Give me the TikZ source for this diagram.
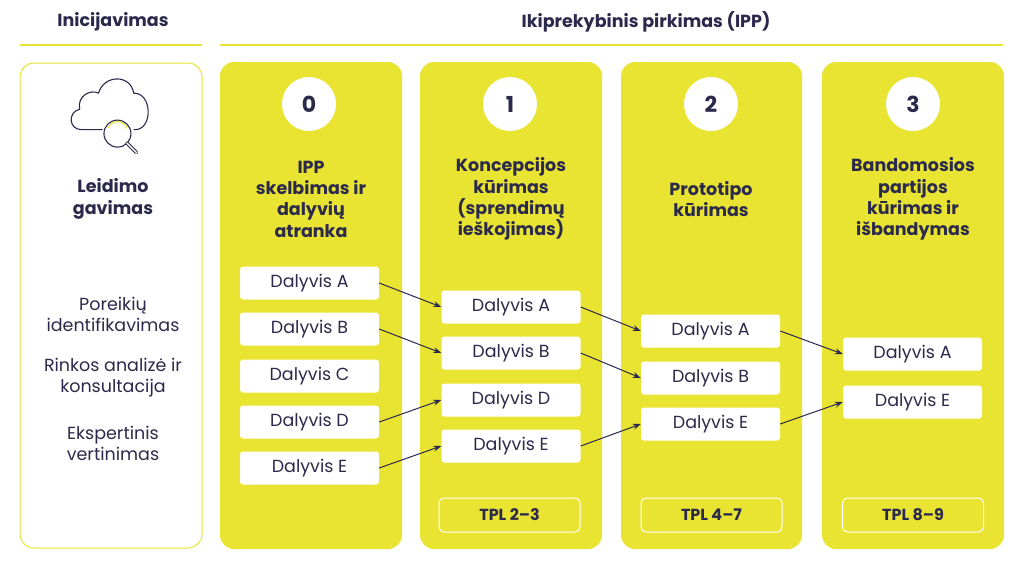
\documentclass[tikz,border=0pt]{standalone}
\usepackage{fontspec}
\setmainfont{Poppins}
\usetikzlibrary{arrows.meta}
\definecolor{yel}{HTML}{E9E432}
\definecolor{navy}{HTML}{2B2A4C}
\tikzset{
  col/.style={fill=yel,rounded corners=14pt},
  part/.style={fill=white,rounded corners=3pt,minimum width=139pt,minimum height=33pt,inner sep=0pt,font=\fontsize{17.5}{20}\selectfont,text=navy},
  tpl/.style={draw=white,line width=1pt,rounded corners=5pt,minimum width=141pt,minimum height=34pt,inner sep=0pt,font=\bfseries\fontsize{16}{18}\selectfont,text=navy},
  num/.style={circle,fill=white,minimum size=54pt,inner sep=0pt,font=\bfseries\fontsize{22}{24}\selectfont,text=navy},
  ttl/.style={align=center,font=\bfseries\fontsize{17.5}{21.3}\selectfont,text=navy},
  lt/.style={align=center,font=\fontsize{17.5}{21}\selectfont,text=navy},
  arr/.style={-{Stealth[length=8pt,width=6pt]},navy,line width=1pt}
}
\begin{document}
\begin{tikzpicture}[x=1pt,y=-1pt]
\useasboundingbox[fill=white] (0,0) rectangle (1024,563);
% headers
\node[font=\bfseries\fontsize{17.5}{20}\selectfont,text=navy] (h1) at (113,22) {Inicijavimas};
\node[font=\bfseries\fontsize{17.5}{20}\selectfont,text=navy] (h2) at (646,22) {Ikiprekybinis pirkimas (IPP)};
\draw[yel,line width=2pt] (20,45) -- (202,45);
\draw[yel,line width=2pt] (220,45) -- (1003,45);
% left box
\draw[yel,line width=1pt,rounded corners=14pt] (20,63) rectangle (202,548);
% icon
\begin{scope}[navy,line width=1.1pt,shift={(108,112)},scale=1.35]
\draw (-4,13) -- (-20,13) .. controls (-29,13) and (-30,0) .. (-21,-2) .. controls (-23,-12) and (-13,-17) .. (-7,-14) .. controls (-3,-28) and (17,-28) .. (19,-14) .. controls (33,-14) and (33,12) .. (21,13) -- (19,13);
\draw[fill=white] (7,16) circle (10);
\draw[line width=3.4pt,line cap=round] (14,23) -- (21,30);
\draw[white,line width=1.4pt,line cap=round] (14,23) -- (21,30);
\draw[yel,line width=1.1pt] (0,12) arc (200:340:7.5);
\end{scope}
\node[ttl] (lg) at (113,199) {Leidimo\\gavimas};
\node[lt] (l1) at (113,314) {Poreikių\\identifikavimas};
\node[lt] (l2) at (113,378) {Rinkos analizė ir\\konsultacija};
\node[lt] (l3) at (113,443) {Ekspertinis\\vertinimas};
% columns
\fill[col] (220,62) rectangle (402,549);
\fill[col] (420,62) rectangle (602,549);
\fill[col] (621,62) rectangle (802,549);
\fill[col] (822,62) rectangle (1004,549);
\node[num] (n0) at (309,104) {0};
\node[num] (n1) at (510,104) {1};
\node[num] (n2) at (711,104) {2};
\node[num] (n3) at (913,104) {3};
\node[ttl] (t0) at (311,199) {IPP\\skelbimas ir\\dalyvių\\atranka};
\node[ttl] (t1) at (511,199) {Koncepcijos\\kūrimas\\(sprendimų\\ieškojimas)};
\node[ttl] (t2) at (711,199) {Prototipo\\kūrimas};
\node[ttl] (t3) at (913,199) {Bandomosios\\partijos\\kūrimas ir\\išbandymas};
% participants
\node[part] (a0) at (309.5,283) {Dalyvis A};
\node[part] (b0) at (309.5,329) {Dalyvis B};
\node[part] (c0) at (309.5,376) {Dalyvis C};
\node[part] (d0) at (309.5,422) {Dalyvis D};
\node[part] (e0) at (309.5,468) {Dalyvis E};
\node[part] (a1) at (511,307) {Dalyvis A};
\node[part] (b1) at (511,353) {Dalyvis B};
\node[part] (d1) at (511,400) {Dalyvis D};
\node[part] (e1) at (511,446) {Dalyvis E};
\node[part] (a2) at (710.5,331) {Dalyvis A};
\node[part] (b2) at (710.5,378) {Dalyvis B};
\node[part] (e2) at (710.5,424) {Dalyvis E};
\node[part] (a3) at (912.5,354) {Dalyvis A};
\node[part] (e3) at (912.5,402) {Dalyvis E};
\node[tpl] (p1) at (509.5,515) {TPL 2–3};
\node[tpl] (p2) at (711.5,515) {TPL 4–7};
\node[tpl] (p3) at (913,515) {TPL 8–9};
% arrows
\draw[arr] (a0.east) -- (a1.west);
\draw[arr] (b0.east) -- (b1.west);
\draw[arr] (d0.east) -- (d1.west);
\draw[arr] (e0.east) -- (e1.west);
\draw[arr] (a1.east) -- (a2.west);
\draw[arr] (b1.east) -- (b2.west);
\draw[arr] (e1.east) -- (e2.west);
\draw[arr] (a2.east) -- (a3.west);
\draw[arr] (e2.east) -- (e3.west);
\end{tikzpicture}
\end{document}
